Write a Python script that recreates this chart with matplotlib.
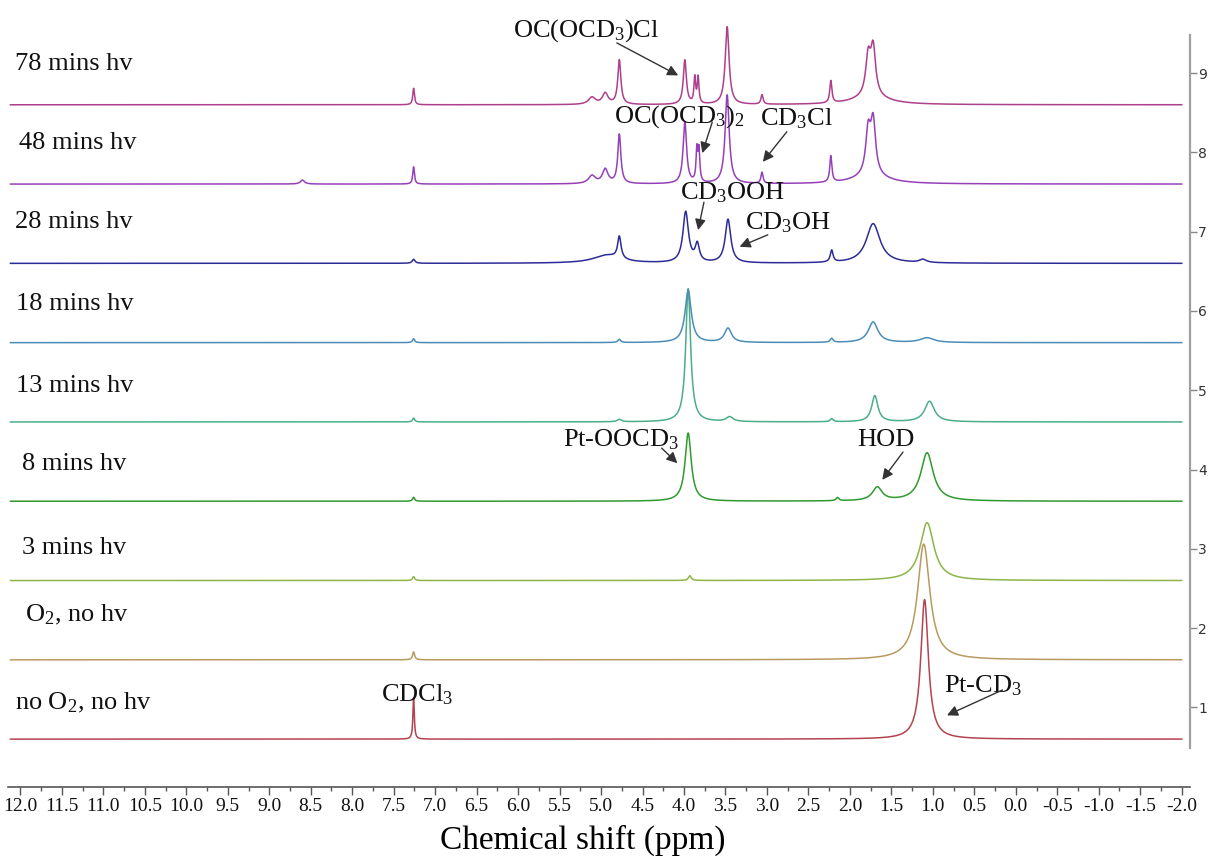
import numpy as np
import matplotlib
matplotlib.use("Agg")
import matplotlib.pyplot as plt
from matplotlib.ticker import MultipleLocator, FormatStrFormatter

plt.rcParams['font.family'] = ['Liberation Serif', 'DejaVu Serif']
plt.rcParams['mathtext.fontset'] = 'custom'
plt.rcParams['mathtext.rm'] = 'Liberation Serif'
plt.rcParams['mathtext.it'] = 'Liberation Serif:italic'
plt.rcParams['axes.unicode_minus'] = False

# ---- data -------------------------------------------------------------
sample_labels = ["no O$_2$, no hv", "O$_2$, no hv", "3 mins hv", "8 mins hv",
                 "13 mins hv", "18 mins hv", "28 mins hv", "48 mins hv",
                 "78 mins hv"]
offsets = [0.6, 1.6, 2.6, 3.6, 4.6, 5.6, 6.6, 7.6, 8.6]
colors = ["#b4434f", "#b99a5e", "#8db54a", "#2f9a2f", "#4aae88",
          "#4b8db8", "#2c2c98", "#9640b8", "#ad3f8d"]

# peaks: (shift ppm, height, half-width ppm)
peaks_no_o2 = [(7.26, 0.53, 0.010), (1.10, 1.76, 0.055)]
peaks_o2 = [(7.26, 0.10, 0.015), (1.11, 1.46, 0.09)]
peaks_3min = [(7.26, 0.05, 0.015), (3.93, 0.06, 0.02), (1.07, 0.73, 0.10)]
peaks_8min = [(7.26, 0.05, 0.015), (3.95, 0.86, 0.045), (2.15, 0.04, 0.02),
              (1.67, 0.17, 0.07), (1.07, 0.61, 0.09)]
peaks_13min = [(7.26, 0.05, 0.015), (4.78, 0.03, 0.03), (3.95, 1.68, 0.035),
               (3.45, 0.06, 0.05), (2.22, 0.04, 0.02), (1.70, 0.33, 0.045),
               (1.04, 0.26, 0.07)]
peaks_18min = [(7.26, 0.05, 0.015), (4.78, 0.04, 0.02), (3.95, 0.66, 0.045),
               (3.47, 0.18, 0.05), (2.22, 0.05, 0.02), (1.72, 0.26, 0.07),
               (1.07, 0.06, 0.10)]
peaks_28min = [(7.26, 0.05, 0.02), (4.93, 0.10, 0.20), (4.78, 0.28, 0.025),
               (3.98, 0.64, 0.04), (3.84, 0.22, 0.03), (3.47, 0.55, 0.04),
               (2.22, 0.15, 0.02), (1.72, 0.50, 0.10), (1.12, 0.04, 0.05)]
peaks_48min = [(8.60, 0.05, 0.03), (7.26, 0.22, 0.012), (5.11, 0.10, 0.05),
               (4.95, 0.18, 0.04), (4.78, 0.62, 0.022), (3.99, 0.78, 0.025),
               (3.845, 0.40, 0.012), (3.82, 0.40, 0.012), (3.48, 1.12, 0.03),
               (3.06, 0.14, 0.015), (2.23, 0.33, 0.015), (1.78, 0.54, 0.035),
               (1.72, 0.66, 0.035), (1.75, 0.10, 0.25)]
peaks_78min = [(7.26, 0.21, 0.012), (5.11, 0.09, 0.05), (4.95, 0.14, 0.04),
               (4.78, 0.56, 0.022), (3.99, 0.56, 0.022), (3.87, 0.33, 0.012),
               (3.83, 0.33, 0.012), (3.48, 0.98, 0.028), (3.06, 0.12, 0.015),
               (2.23, 0.28, 0.015), (1.78, 0.48, 0.035), (1.72, 0.59, 0.035),
               (1.75, 0.10, 0.25)]
spectra = [peaks_no_o2, peaks_o2, peaks_3min, peaks_8min, peaks_13min,
           peaks_18min, peaks_28min, peaks_48min, peaks_78min]

x_ticks_major = 0.5
y_ticks = [1, 2, 3, 4, 5, 6, 7, 8, 9]

# ---- figure -----------------------------------------------------------
fig = plt.figure(figsize=(12.08, 8.57), dpi=100)
ax = fig.add_axes([8 / 1208, 1 - 748 / 857, 1182 / 1208, 713 / 857])

ppm = np.linspace(12.12, -2.0, 4000)
for peaks, off, col in zip(spectra, offsets, colors):
    y = np.full_like(ppm, off)
    for x0, h, w in peaks:
        y += h * w ** 2 / ((ppm - x0) ** 2 + w ** 2)
    ax.plot(ppm, y, color=col, lw=1.1, clip_on=False)

ax.set_xlim(12.15, -2.10)
ax.set_ylim(0.488, 9.48)

# sample labels
label_pos = [(12.06, 1.06), (11.94, 2.17), (11.98, 3.01), (11.98, 4.07),
             (12.05, 5.05), (12.05, 6.09), (12.06, 7.12), (12.02, 8.12),
             (12.06, 9.11)]
for lab, (lx, ly) in zip(sample_labels, label_pos):
    ax.text(lx, ly, lab, fontsize=19, ha='left', va='center', color='#111')

# peak annotations
annots = [
    ("OC(OCD$_3$)Cl", (5.18, 9.54), (4.81, 9.38), (4.07, 8.97)),
    ("OC(OCD$_3$)$_2$", (4.06, 8.45), (3.66, 8.38), (3.78, 7.99)),
    ("CD$_3$Cl", (2.64, 8.43), (2.76, 8.26), (3.05, 7.88)),
    ("CD$_3$OOH", (3.42, 7.49), (3.76, 7.37), (3.83, 7.02)),
    ("CD$_3$OH", (2.75, 7.11), (2.99, 6.96), (3.33, 6.81)),
    ("Pt-OOCD$_3$", (4.76, 4.37), (4.27, 4.27), (4.08, 4.08)),
    ("HOD", (1.57, 4.37), (1.36, 4.22), (1.61, 3.87)),
    ("CDCl$_3$", (7.22, 1.16), None, None),
    ("Pt-CD$_3$", (0.39, 1.28), (0.16, 1.22), (0.83, 0.90)),
]
for txt, tpos, a0, a1 in annots:
    ax.text(tpos[0], tpos[1], txt, fontsize=19, ha='center', va='center',
            color='#111', clip_on=False)
    if a0 is not None:
        ax.annotate('', xy=a1, xytext=a0,
                    arrowprops=dict(arrowstyle='-|>', color='#333', lw=1.0,
                                    mutation_scale=16, shrinkA=0, shrinkB=0))

# axes styling
for s in ['left', 'top']:
    ax.spines[s].set_visible(False)
ax.spines['right'].set_color('#a0a0a0')
ax.spines['right'].set_linewidth(1.6)
ax.spines['bottom'].set_position(('outward', 28))
ax.spines['bottom'].set_color('#555555')
ax.spines['bottom'].set_linewidth(1.2)

ax.xaxis.set_major_locator(MultipleLocator(x_ticks_major))
ax.xaxis.set_minor_locator(MultipleLocator(x_ticks_major / 2))
ax.xaxis.set_major_formatter(FormatStrFormatter('%.1f'))
ax.tick_params(axis='x', which='major', length=6, width=1, color='#555',
               labelsize=14, pad=2, labelcolor='#111')
ax.tick_params(axis='x', which='minor', length=3, width=1, color='#555')
ax.set_xlabel("Chemical shift (ppm)", fontsize=24, labelpad=0)
ax.xaxis.set_label_coords(0.486, -0.108)

ax.yaxis.tick_right()
ax.set_yticks(y_ticks)
ax.tick_params(axis='y', which='major', length=5, width=1, color='#888',
               labelsize=10, pad=1, labelcolor='#333')
for t in ax.get_yticklabels():
    t.set_fontfamily('DejaVu Sans')

fig.savefig("out.png", dpi=100)
